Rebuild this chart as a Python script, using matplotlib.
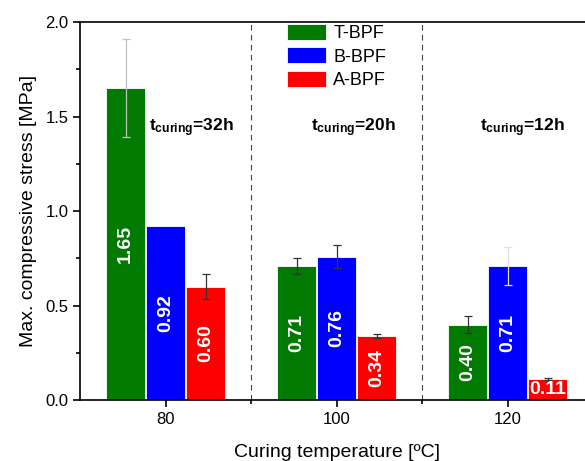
import numpy as np
import matplotlib.pyplot as plt
from matplotlib.ticker import MultipleLocator

plt.rcParams['font.family'] = ['Liberation Sans', 'DejaVu Sans']
plt.rcParams['mathtext.fontset'] = 'custom'
plt.rcParams['mathtext.bf'] = 'Liberation Sans:bold'
plt.rcParams['mathtext.rm'] = 'Liberation Sans'

temps = ['80', '100', '120']
series = ['T-BPF', 'B-BPF', 'A-BPF']
colors = ['#007a00', '#0000ff', '#ff0000']
t_bpf = [1.65, 0.71, 0.40]
b_bpf = [0.92, 0.76, 0.71]
a_bpf = [0.60, 0.34, 0.11]
t_err = [0.26, 0.04, 0.045]
b_err = [0.0, 0.06, 0.10]
a_err = [0.065, 0.01, 0.005]
curing = ['32h', '20h', '12h']

values = [t_bpf, b_bpf, a_bpf]
errors = [t_err, b_err, a_err]
# faint error bars in the original
light = {(0, 0): '#c0c0c0', (1, 2): '#e0e0e0'}

fig = plt.figure(figsize=(5.85, 4.61), dpi=100)
ax = fig.add_axes([0.137, 0.132, 0.877, 0.820])

x = np.arange(len(temps))
w = 0.228
for i, (vals, errs, c, name) in enumerate(zip(values, errors, colors, series)):
    pos = x + (i - 1) * (w + 0.006)
    ax.bar(pos, vals, width=w, color=c, edgecolor='white', linewidth=0.6, label=name, zorder=2)
    for j in range(len(temps)):
        ecol = light.get((i, j), '#333333')
        if errs[j] > 0:
            ax.errorbar(pos[j], vals[j], yerr=errs[j], fmt='none', ecolor=ecol,
                        elinewidth=0.9, capsize=3, capthick=0.9, zorder=3)
        rot = 0 if vals[j] < 0.2 else 90
        ax.text(pos[j], vals[j] / 2, f'{vals[j]:.2f}', color='white', fontsize=14,
                fontweight='bold', ha='center', va='center', rotation=rot, zorder=4)

for xv in [0.5, 1.5]:
    ax.axvline(xv, color='#444444', linestyle=(0, (5, 4)), linewidth=0.8, zorder=1)

for xpos, t in zip([-0.095, 0.85, 1.84], curing):
    ax.text(xpos, 1.44, r'$\mathbf{t_{curing}}$' + '=' + t, fontsize=12.5, fontweight='bold',
            ha='left', va='center')

ax.set_xlim(-0.5, 2.5)
ax.set_ylim(0, 2.0)
ax.set_xticks(x)
ax.set_xticklabels(temps)
ax.set_xticks([0.5, 1.5], minor=True)
ax.yaxis.set_major_locator(MultipleLocator(0.5))
ax.yaxis.set_minor_locator(MultipleLocator(0.25))
ax.tick_params(axis='both', which='major', labelsize=12, direction='out', length=5, width=1.2)
ax.tick_params(axis='both', which='minor', direction='out', length=3, width=1.2)
for s in ['left', 'bottom', 'top']:
    ax.spines[s].set_linewidth(1.2)
ax.spines['right'].set_visible(False)

ax.set_xlabel('Curing temperature [ºC]', fontsize=14, labelpad=12)
ax.set_ylabel('Max. compressive stress [MPa]', fontsize=14, labelpad=6)

ax.legend(loc='upper left', bbox_to_anchor=(0.4035, 0.995), frameon=False, fontsize=13,
          handlelength=2.15, handleheight=1.0, labelspacing=0.28, handletextpad=0.4,
          borderpad=0, borderaxespad=0)

fig.savefig('out.png', dpi=100)
